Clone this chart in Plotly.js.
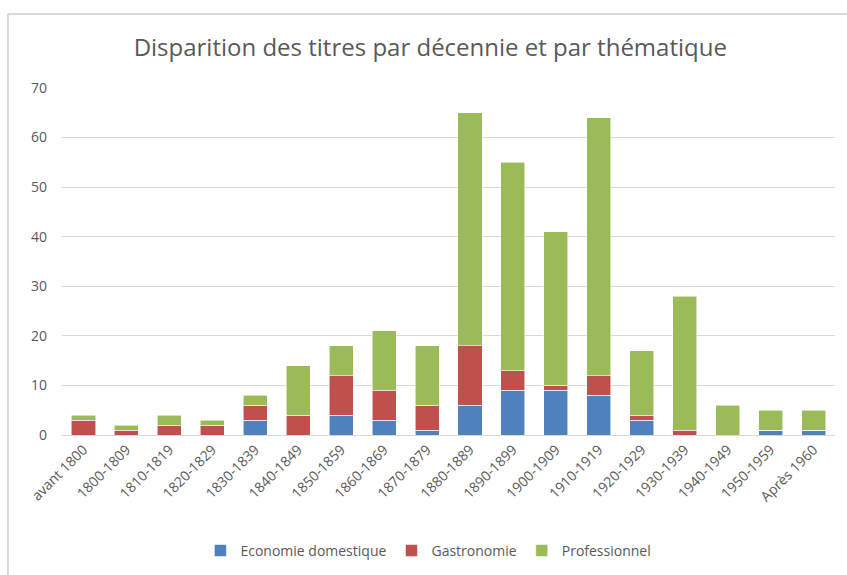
<!DOCTYPE html>
<html>
<head>
<meta charset="utf-8">
<script src="https://cdn.plot.ly/plotly-3.0.1.min.js"></script>
<style>html,body{margin:0;padding:0;background:#fff;}#chart{width:847px;height:575px;}</style>
</head>
<body>
<div id="chart"></div>
<script>
const categories = ["avant 1800","1800-1809","1810-1819","1820-1829","1830-1839","1840-1849","1850-1859","1860-1869","1870-1879","1880-1889","1890-1899","1900-1909","1910-1919","1920-1929","1930-1939","1940-1949","1950-1959","Après 1960"];
const economie = [0,0,0,0,3,0,4,3,1,6,9,9,8,3,0,0,1,1];
const gastronomie = [3,1,2,2,3,4,8,6,5,12,4,1,4,1,1,0,0,0];
const professionnel = [1,1,2,1,2,10,6,12,12,47,42,31,52,13,27,6,4,4];
const seriesNames = ["Economie domestique","Gastronomie","Professionnel"];
const seriesColors = ["#4f81bd","#c0504d","#9bbb59"];
const yTicks = [0,10,20,30,40,50,60,70];

const font = "Open Sans, Liberation Sans, sans-serif";
const traces = [economie, gastronomie, professionnel].map((vals, i) => ({
  type: "bar",
  name: seriesNames[i],
  x: categories,
  y: vals,
  marker: {color: seriesColors[i], line: {color: "rgba(255,255,255,0.7)", width: 0.8}},
  hoverinfo: "x+y+name"
}));

const layout = {
  width: 847, height: 575,
  margin: {l: 62, r: 12, t: 88, b: 140, autoexpand: false},
  paper_bgcolor: "#ffffff", plot_bgcolor: "#ffffff",
  barmode: "stack",
  bargap: 0.44,
  font: {family: font, color: "#595959", size: 13},
  title: {text: "Disparition des titres par décennie et par thématique",
          font: {family: font, size: 24, color: "#595959"},
          x: 0.508, xanchor: "center", xref: "container",
          y: 1 - 48/575, yanchor: "middle", yref: "container"},
  xaxis: {type: "category", tickangle: -45, tickfont: {size: 14, color: "#595959"}, automargin: false,
          showgrid: false, showline: true, linecolor: "#d9d9d9", linewidth: 1, ticks: "", fixedrange: true},
  yaxis: {range: [0, 70], tickvals: yTicks, ticktext: yTicks.map(String), automargin: false,
          tickfont: {size: 14, color: "#595959"}, showgrid: true, gridcolor: "#d9d9d9", gridwidth: 1,
          zeroline: false, showline: false, ticks: "", ticklabelstandoff: 14, fixedrange: true},
  showlegend: true,
  legend: {orientation: "h", x: 0.474, xanchor: "center", y: -0.334, yanchor: "middle",
           traceorder: "normal", font: {size: 14, color: "#595959"}, itemwidth: 30},
  shapes: [
    {type: "line", xref: "paper", yref: "paper", x0: -0.0699, x1: 1.0155, y0: 1.2133, y1: 1.2133,
     line: {color: "#d9d9d9", width: 2}},
    {type: "line", xref: "paper", yref: "paper", x0: -0.0699, x1: -0.0699, y0: 1.2133, y1: -0.41,
     line: {color: "#d9d9d9", width: 2}}
  ]
};
Plotly.newPlot("chart", traces, layout, {displayModeBar: false, staticPlot: true});
</script>
</body>
</html>
